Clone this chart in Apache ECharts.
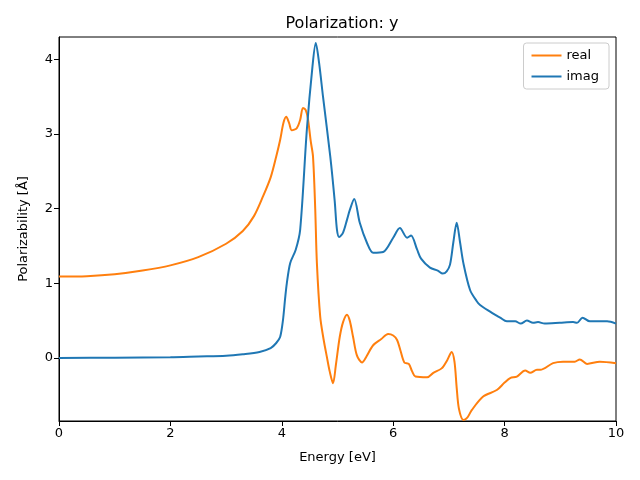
<!DOCTYPE html>
<html><head><meta charset="utf-8">
<script src="https://cdn.jsdelivr.net/npm/echarts@6/dist/echarts.min.js"></script>
<style>html,body{margin:0;padding:0;background:#fff}#c{width:640px;height:480px}</style>
</head><body><div id="c"></div>
<script>
const realX = [0,0.5,1,1.5,2,2.5,3,3.3,3.5,3.66,3.8,3.9,3.97,4.03,4.08,4.13,4.18,4.27,4.33,4.38,4.43,4.47,4.52,4.56,4.6,4.63,4.69,4.75,4.81,4.86,4.92,4.97,5.04,5.1,5.17,5.22,5.28,5.35,5.44,5.52,5.64,5.78,5.91,6.0,6.07,6.13,6.2,6.28,6.34,6.4,6.61,6.72,6.87,6.97,7.05,7.1,7.14,7.18,7.26,7.33,7.41,7.61,7.86,8.0,8.1,8.22,8.37,8.46,8.58,8.64,8.87,9.05,9.26,9.35,9.48,9.71,10];
const realY = [1.09,1.095,1.12,1.17,1.24,1.35,1.53,1.7,1.9,2.16,2.42,2.7,2.92,3.15,3.23,3.15,3.05,3.08,3.19,3.35,3.32,3.2,2.9,2.7,2.0,1.27,0.55,0.25,0.01,-0.18,-0.34,-0.1,0.28,0.48,0.58,0.5,0.28,0.03,-0.06,0.02,0.17,0.25,0.32,0.3,0.24,0.1,-0.06,-0.08,-0.18,-0.25,-0.26,-0.2,-0.14,-0.03,0.08,-0.05,-0.4,-0.68,-0.83,-0.8,-0.7,-0.52,-0.43,-0.33,-0.27,-0.25,-0.17,-0.2,-0.16,-0.16,-0.07,-0.05,-0.05,-0.02,-0.08,-0.05,-0.07];
const imagX = [0,1,2,2.5,3,3.3,3.6,3.8,3.9,3.97,4.02,4.06,4.09,4.15,4.25,4.33,4.45,4.55,4.61,4.67,4.74,4.87,4.95,4.99,5.03,5.1,5.17,5.22,5.3,5.4,5.53,5.64,5.82,6.0,6.12,6.25,6.32,6.43,6.5,6.66,6.8,6.89,6.96,7.02,7.08,7.14,7.2,7.26,7.38,7.5,7.56,7.74,7.85,7.92,8.04,8.19,8.29,8.4,8.51,8.6,8.72,8.99,9.23,9.3,9.4,9.53,9.84,10];
const imagY = [0.0,0.003,0.01,0.02,0.03,0.05,0.08,0.13,0.2,0.28,0.5,0.8,1.0,1.27,1.45,1.72,3.06,3.9,4.22,3.95,3.5,2.7,2.1,1.72,1.62,1.68,1.85,1.98,2.13,1.81,1.54,1.41,1.42,1.61,1.74,1.61,1.64,1.45,1.33,1.21,1.17,1.13,1.16,1.25,1.55,1.81,1.55,1.27,0.91,0.76,0.71,0.62,0.57,0.54,0.49,0.49,0.46,0.5,0.47,0.48,0.46,0.47,0.48,0.47,0.54,0.49,0.49,0.46];
const yTicks = [0,1,2,3,4];
const xTicks = [0,2,4,6,8,10];

const font = 'DejaVu Sans';
const chart = echarts.init(document.getElementById('c'), null, {renderer:'canvas'});
chart.setOption({
  animation:false,
  backgroundColor:'#fff',
  title:{text:'Polarization: y', left:337, top:11, textAlign:'center',
    textStyle:{fontFamily:font, fontSize:16, fontWeight:'normal', color:'#000'}},
  grid:{left:59, right:24, top:37, bottom:59, show:true, borderColor:'#000', borderWidth:1, containLabel:false},
  legend:{orient:'vertical', right:31, top:43, data:['real','imag'], icon:'rect', itemWidth:30, itemHeight:2, itemGap:8,
    padding:[6,10,6,8], borderColor:'#ccc', borderWidth:1, borderRadius:3,
    textStyle:{fontFamily:font, fontSize:13, color:'#000'}},
  xAxis:{type:'value', min:0, max:10, interval:2, name:'Energy [eV]', nameLocation:'middle', nameGap:30,
    nameTextStyle:{fontFamily:font, fontSize:13, color:'#000'},
    axisLine:{show:true, onZero:false, lineStyle:{color:'#000'}},
    axisTick:{show:true, length:5, inside:false, lineStyle:{color:'#000'}},
    axisLabel:{fontFamily:font, fontSize:13, color:'#000', margin:6, customValues:xTicks},
    splitLine:{show:false}},
  yAxis:{type:'value', min:-0.845, max:4.30, name:'Polarizability [Å]', nameLocation:'middle', nameGap:29, nameRotate:90,
    nameTextStyle:{fontFamily:font, fontSize:13, color:'#000'},
    axisLine:{show:true, onZero:false, lineStyle:{color:'#000'}},
    axisTick:{show:true, length:5, lineStyle:{color:'#000'}, customValues:yTicks},
    axisLabel:{fontFamily:font, fontSize:13, color:'#000', margin:6, customValues:yTicks},
    splitLine:{show:false}},
  series:[
    {name:'real', type:'line', showSymbol:false, smooth:0.3, color:'#ff7f0e', lineStyle:{width:2, color:'#ff7f0e'},
      data:realX.map((x,i)=>[x,realY[i]])},
    {name:'imag', type:'line', showSymbol:false, smooth:0.3, color:'#1f77b4', lineStyle:{width:2, color:'#1f77b4'},
      data:imagX.map((x,i)=>[x,imagY[i]])}
  ]
});
</script></body></html>
